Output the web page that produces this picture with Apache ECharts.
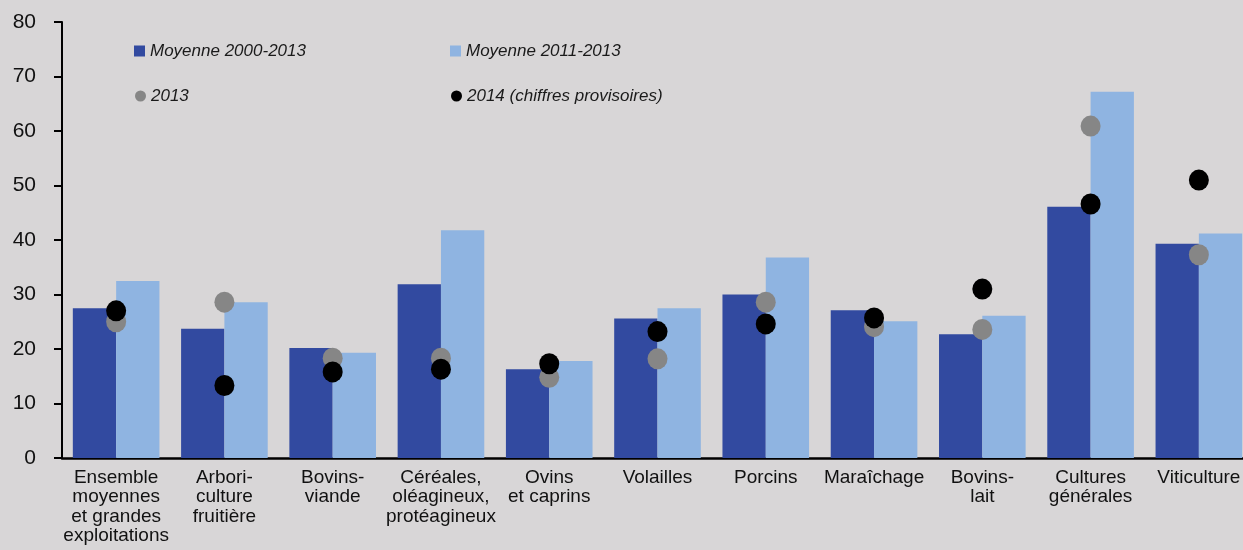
<!DOCTYPE html>
<html>
<head>
<meta charset="utf-8">
<script src="https://cdn.jsdelivr.net/npm/echarts@6/dist/echarts.min.js"></script>
<style>
html,body{margin:0;padding:0;background:#d8d6d7;overflow:hidden;width:1243px;height:550px;}
#c{width:1260px;height:550px;}
</style>
</head>
<body>
<div id="c"></div>
<script>
const categories = [
  "Ensemble\nmoyennes\net grandes\nexploitations",
  "Arbori-\nculture\nfruitière",
  "Bovins-\nviande",
  "Céréales,\noléagineux,\nprotéagineux",
  "Ovins\net caprins",
  "Volailles",
  "Porcins",
  "Maraîchage",
  "Bovins-\nlait",
  "Cultures\ngénérales",
  "Viticulture"
];
const moyenne2000_2013 = [27.5, 23.7, 20.2, 31.9, 16.3, 25.6, 30.0, 27.1, 22.7, 46.1, 39.3];
const moyenne2011_2013 = [32.5, 28.6, 19.3, 41.8, 17.8, 27.5, 36.8, 25.1, 26.1, 67.2, 41.2];
const val2013 = [25.0, 28.6, 18.3, 18.3, 14.8, 18.2, 28.6, 24.1, 23.6, 60.9, 37.3];
const val2014 = [27.0, 13.3, 15.8, 16.3, 17.3, 23.2, 24.6, 25.7, 31.0, 46.6, 51.0];
const yTicks = [0, 10, 20, 30, 40, 50, 60, 70, 80];

const FONT = "'Liberation Sans', Arial, sans-serif";
const names = ["Moyenne 2000-2013", "Moyenne 2011-2013", "2013", "2014 (chiffres provisoires)"];
const colors = ["#324aa0", "#8fb4e1", "#868686", "#000000"];

function legend(name, icon, left, top, w, h) {
  return {
    data: [{name: name, icon: icon}],
    left: left, top: top,
    itemWidth: w, itemHeight: h,
    padding: 0,
    selectedMode: false,
    textStyle: {fontFamily: FONT, fontSize: 17, fontStyle: 'italic', color: '#1a1a1a', lineHeight: 20}
  };
}

const chart = echarts.init(document.getElementById('c'), null, {renderer: 'canvas'});
chart.setOption({
  backgroundColor: '#d8d6d7',
  animation: false,
  textStyle: {fontFamily: FONT},
  legend: [
    legend(names[0], 'rect', 134, 41, 11, 11),
    legend(names[1], 'rect', 450, 41, 11, 11),
    legend(names[2], 'circle', 135, 86, 11, 12),
    legend(names[3], 'circle', 451, 86, 11, 12)
  ],
  grid: {left: 62, top: 22, width: 1191, height: 436, containLabel: false},
  xAxis: {
    type: 'category',
    data: categories,
    axisLine: {lineStyle: {color: '#000', width: 2.5}},
    axisTick: {show: false},
    axisLabel: {interval: 0, fontFamily: FONT, fontSize: 19, lineHeight: 19.5, color: '#111', margin: 10, align: 'center'}
  },
  yAxis: {
    type: 'value',
    min: yTicks[0], max: yTicks[yTicks.length - 1], interval: 10,
    axisLine: {show: true, lineStyle: {color: '#000', width: 2}},
    axisTick: {show: true, length: 8, lineStyle: {color: '#000', width: 2}},
    splitLine: {show: false},
    axisLabel: {fontFamily: FONT, fontSize: 21, color: '#111', margin: 26}
  },
  series: [
    {name: names[0], type: 'bar', data: moyenne2000_2013, itemStyle: {color: colors[0]}, barGap: '0%', barCategoryGap: '20%'},
    {name: names[1], type: 'bar', data: moyenne2011_2013, itemStyle: {color: colors[1]}, barGap: '0%', barCategoryGap: '20%'},
    {name: names[2], type: 'scatter', data: val2013, symbol: 'circle', symbolSize: [20, 21], itemStyle: {color: colors[2], opacity: 1}, z: 3},
    {name: names[3], type: 'scatter', data: val2014, symbol: 'circle', symbolSize: [20, 21], itemStyle: {color: colors[3], opacity: 1}, z: 4}
  ]
});
</script>
</body>
</html>
